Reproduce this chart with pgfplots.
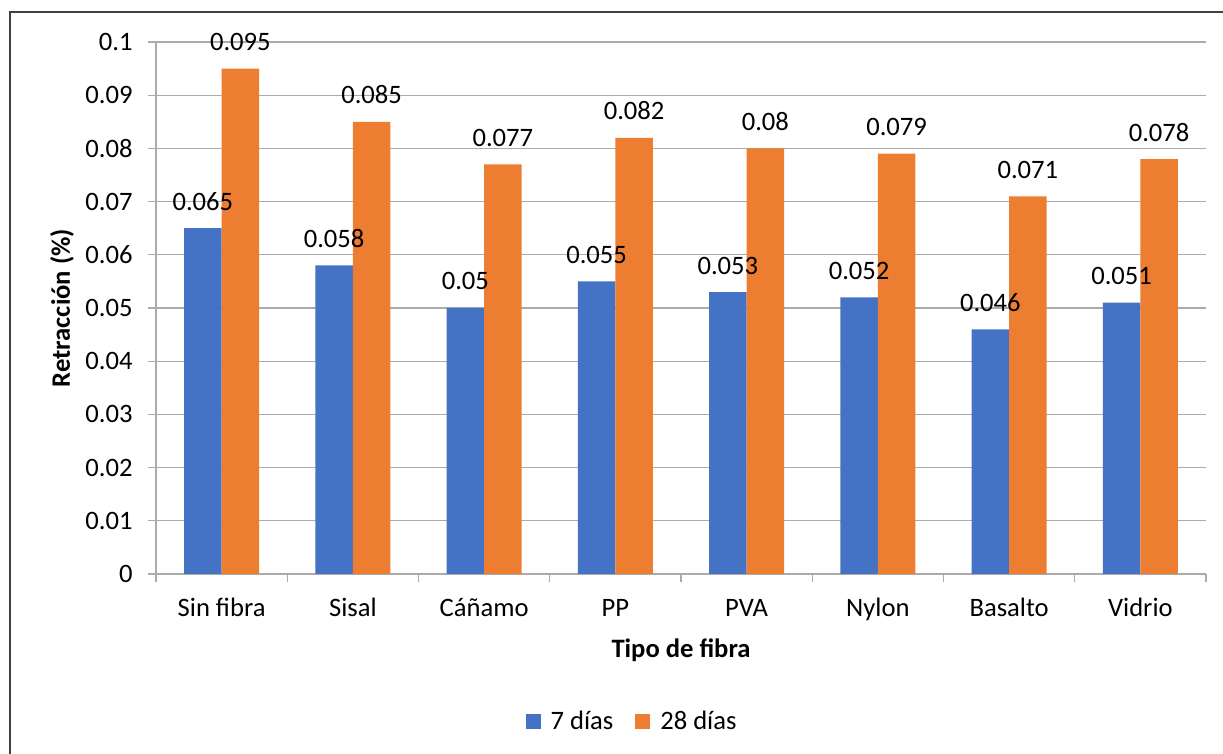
\documentclass[border=0pt]{standalone}
\usepackage{fontspec}
\setmainfont{Carlito}
\usepackage{pgfplots}
\pgfplotsset{compat=1.18}
\definecolor{cblue}{HTML}{4472C4}
\definecolor{corange}{HTML}{ED7D31}
\definecolor{gridc}{HTML}{ABABAB}
\definecolor{framec}{HTML}{404040}
\begin{document}
\begin{tikzpicture}[font=\fontsize{13.3pt}{16pt}\selectfont]
\useasboundingbox (0,0) rectangle (611.5pt,377pt);
\draw[framec, line width=0.8pt] (5pt,-2pt) -- (5pt,371pt) -- (620pt,371pt);
\begin{axis}[
  at={(78pt,90pt)}, anchor=south west,
  scale only axis, width=525pt, height=266pt,
  font=\fontsize{13.3pt}{16pt}\selectfont,
  ybar=0pt, bar width=18.75pt,
  ymin=0, ymax=0.1,
  ytick={0,0.01,0.02,0.03,0.04,0.05,0.06,0.07,0.08,0.09,0.1},
  scaled y ticks=false,
  /pgf/number format/.cd, fixed, precision=3, assume math mode=true, /pgfplots/.cd,
  xmin=-0.5, xmax=7.5,
  xtick={0,...,7},
  xticklabels={Sin fibra,Sisal,Cáñamo,PP,PVA,Nylon,Basalto,Vidrio},
  minor xtick={-0.5,0.5,...,7.5},
  major x tick style={draw=none},
  tick align=outside,
  major tick length=4pt, minor tick length=4pt,
  tick style={gridc, line width=0.6pt},
  axis x line*=bottom, axis y line*=left,
  axis line style={gridc, line width=0.6pt, -},
  ymajorgrids, grid style={gridc, line width=0.6pt},
  yticklabel style={anchor=east, xshift=-4.2pt},
  xticklabel style={anchor=base, yshift=-17.5pt},
  xlabel={\textbf{Tipo de fibra}},
  ylabel={\textbf{Retracción (\%)}},
  xlabel style={at={(axis description cs:0.5,-0.1429)}, anchor=center},
  ylabel style={at={(axis description cs:-0.0895,0.5)}, anchor=center},
  nodes near coords,
  every node near coord/.append style={anchor=base, yshift=9pt, text=black},
  legend style={at={(axis description cs:0.4543,-0.278)}, anchor=center, draw=none, legend columns=2,
    /tikz/every odd column/.append style={column sep=3pt},
    /tikz/every even column/.append style={column sep=9pt}},
  legend image code/.code={\fill[#1] (0pt,-3.75pt) rectangle (7.5pt,3.75pt);},
]
\addplot[fill=cblue, draw=none] coordinates {(0,0.065) (1,0.058) (2,0.05) (3,0.055) (4,0.053) (5,0.052) (6,0.046) (7,0.051)};
\addplot[fill=corange, draw=none] coordinates {(0,0.095) (1,0.085) (2,0.077) (3,0.082) (4,0.08) (5,0.079) (6,0.071) (7,0.078)};
\legend{7 días,28 días}
\end{axis}
\end{tikzpicture}
\end{document}
